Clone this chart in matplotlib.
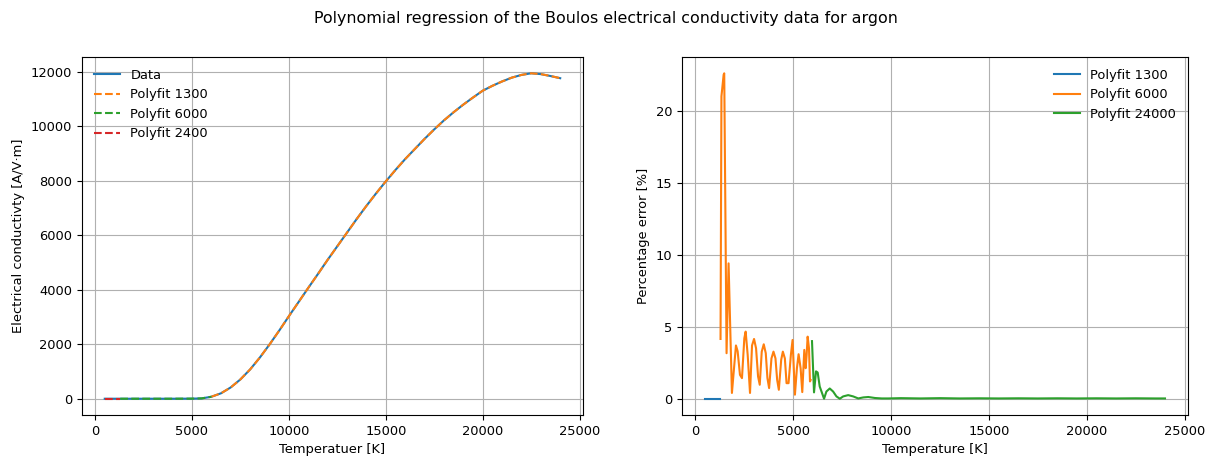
import matplotlib
matplotlib.use("Agg")
import matplotlib.pyplot as plt
import numpy as np

plt.rcParams["font.size"] = 9.4

# Left panel: conductivity data (temperature [K], conductivity [A/V·m])
temp_data = [500, 1000, 1300, 2000, 3000, 4000, 5000, 5500, 6000, 6500, 7000, 7500,
             8000, 8500, 9000, 9500, 10000, 10500, 11000, 11500, 12000, 12500,
             13000, 13500, 14000, 14500, 15000, 15500, 16000, 16500, 17000,
             17500, 18000, 18500, 19000, 19500, 20000, 20500, 21000, 21500,
             22000, 22500, 23000, 23500, 24000]
sigma_data = [0, 0, 0, 0, 0, 0, 3, 12, 72, 200, 415, 710,
              1075, 1510, 1990, 2500, 3030, 3550, 4070, 4580, 5100, 5600,
              6100, 6600, 7080, 7540, 7980, 8400, 8800, 9170, 9540,
              9890, 10220, 10520, 10800, 11060, 11310, 11490, 11650, 11790,
              11890, 11950, 11920, 11850, 11770]

# Right panel: percentage error of each polynomial fit
err1_T = [480, 750, 1000, 1250]
err1 = [0.01, 0.01, 0.01, 0.01]

err2_T = [1284, 1330, 1443, 1473, 1592, 1695, 1866, 2072, 2158, 2277, 2380, 2500, 2568,
          2671, 2791, 2894, 2997, 3100, 3202, 3288, 3390, 3493, 3596, 3681,
          3767, 3887, 3990, 4092, 4178, 4264, 4384, 4469, 4572, 4658, 4760,
          4880, 4966, 5086, 5188, 5274, 5377, 5462, 5565, 5634, 5685, 5736,
          5805, 5856, 5890]
err2 = [4.15, 21.0, 22.5, 22.6, 3.16, 9.4, 0.4, 3.7, 3.3, 1.66, 1.43, 4.2, 4.66,
        3.05, 0.4, 3.7, 4.15, 3.5, 1.55, 0.97, 3.27, 3.78, 3.16, 1.43,
        0.74, 2.8, 3.27, 2.8, 1.31, 0.62, 2.7, 3.27, 2.8, 1.08, 1.08,
        3.05, 4.08, 0.28, 2.12, 3.09, 2.12, 0.46, 3.39, 2.12, 3.05, 4.31,
        3.5, 1.2, 1.3]

err3_T = [5959, 6062, 6164, 6250, 6353, 6575, 6695, 6866, 7038, 7209, 7380, 7551,
          7808, 8065, 8322, 8579, 8836, 9178, 9520, 9863, 10500, 11500, 12500,
          13500, 14500, 15500, 16500, 17500, 18500, 19500, 20500, 21500,
          22500, 23500, 24000]
err3 = [4.0, 0.44, 1.9, 1.82, 0.85, 0.0, 0.5, 0.71, 0.5, 0.16, 0.0, 0.16,
        0.25, 0.16, 0.02, 0.09, 0.12, 0.05, 0.02, 0.02, 0.04, 0.02, 0.04,
        0.02, 0.03, 0.02, 0.03, 0.02, 0.03, 0.02, 0.03, 0.02,
        0.03, 0.02, 0.02]

T = np.array(temp_data)
S = np.array(sigma_data)
seg_a = (T >= 500) & (T <= 1300)
seg_b = (T >= 1300) & (T <= 6000)
seg_c = (T >= 6000)

fig = plt.figure(figsize=(12.11, 4.58), dpi=100)
ax1 = fig.add_axes([0.0677, 0.0939, 0.4137, 0.7816])
ax2 = fig.add_axes([0.563, 0.0939, 0.418, 0.7816])

ax1.plot(T, S, color="C0", label="Data")
ax1.plot(T[seg_c], S[seg_c], "--", color="C1", label="Polyfit 1300")
ax1.plot(T[seg_b], S[seg_b], "--", color="C2", label="Polyfit 6000")
ax1.plot(T[seg_a], S[seg_a], "--", color="C3", label="Polyfit 2400")
ax1.set_xlabel("Temperatuer [K]")
ax1.set_ylabel("Electrical conductivty [A/V·m]")
ax1.grid(True)
ax1.legend(loc="upper left", frameon=False)

ax2.plot(err1_T, err1, color="C0", label="Polyfit 1300")
ax2.plot(err2_T, err2, color="C1", label="Polyfit 6000")
ax2.plot(err3_T, err3, color="C2", label="Polyfit 24000")
ax2.set_xlabel("Temperature [K]")
ax2.set_ylabel("Percentage error [%]")
ax2.grid(True)
ax2.legend(loc="upper right", frameon=False)

fig.suptitle("Polynomial regression of the Boulos electrical conductivity data for argon",
             fontsize=11.4, y=0.975)
fig.savefig("out.png", dpi=100)
